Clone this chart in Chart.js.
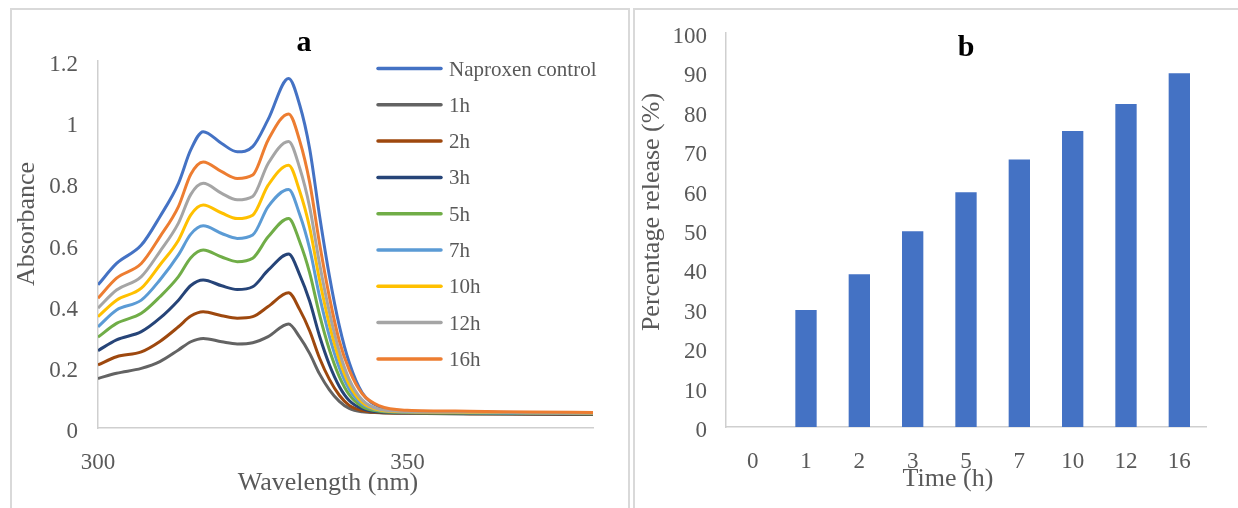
<!DOCTYPE html>
<html>
<head>
<meta charset="utf-8">
<script src="https://cdn.jsdelivr.net/npm/chart.js@4.4.1/dist/chart.umd.min.js"></script>
<style>
  body { margin: 0; background: #fff; }
  .panel { position: absolute; top: 8px; height: 520px; border: 2px solid #d9d9d9; box-sizing: border-box; }
  .wrap { position: absolute; top: 0; height: 508px; }
</style>
</head>
<body>
<div class="panel" style="left:10px; width:620px;"></div>
<div class="panel" style="left:633px; width:620px;"></div>
<div class="wrap" style="left:0; width:629px;"><canvas id="spectraChart"></canvas></div>
<div class="wrap" style="left:633px; width:605px;"><canvas id="releaseChart"></canvas></div>
<script>
// ---- data: UV spectra (panel a) ----
const wavelengths = [300, 303, 307, 310, 313, 315, 317, 320, 322.5, 325, 327.5, 330.8, 332.6, 334.2, 335.8, 337.4, 339, 340.6, 342.7, 345.5, 350, 360, 370, 380];
const seriesNames = ['Naproxen control', '1h', '2h', '3h', '5h', '7h', '10h', '12h', '16h'];
const control = [.468, .538, .598, .691, .800, .910, .969, .930, .903, .920, 1.009, 1.143, 1.056, .914, .695, .497, .334, .214, .115, .069, .055, .052, .050, .049];
const h1  = [.162, .179, .195, .217, .255, .282, .293, .282, .275, .279, .299, .340, .297, .244, .177, .125, .087, .064, .053, .050, .048, .046, .045, .044];
const h2  = [.206, .233, .249, .283, .331, .366, .380, .367, .359, .364, .397, .442, .387, .318, .229, .159, .107, .074, .057, .051, .049, .047, .046, .045];
const h3  = [.253, .288, .315, .359, .418, .466, .484, .465, .453, .462, .516, .569, .501, .415, .301, .207, .136, .090, .063, .052, .050, .048, .047, .046];
const h5  = [.297, .342, .375, .429, .495, .557, .582, .559, .544, .555, .625, .685, .609, .508, .371, .256, .168, .109, .070, .055, .051, .049, .048, .047];
const h7  = [.331, .386, .418, .484, .566, .634, .661, .636, .620, .631, .724, .780, .698, .587, .431, .300, .197, .127, .078, .057, .052, .050, .049, .048];
const h10 = [.364, .418, .457, .533, .614, .697, .729, .703, .685, .696, .794, .859, .774, .656, .485, .338, .223, .142, .084, .059, .053, .051, .050, .049];
const h12 = [.392, .451, .495, .577, .670, .764, .800, .767, .746, .757, .865, .937, .850, .723, .538, .379, .250, .159, .092, .061, .054, .052, .050, .049];
const h16 = [.424, .490, .538, .625, .724, .830, .870, .838, .816, .827, .942, 1.027, .939, .804, .604, .428, .285, .190, .112, .072, .058, .055, .052, .051];
const spectra = [control, h1, h2, h3, h5, h7, h10, h12, h16];
const seriesColors = ['#4472C4', '#636363', '#9E480E', '#264478', '#70AD47', '#5B9BD5', '#FFC000', '#A5A5A5', '#ED7D31'];
const wavelengthTicks = [300, 350];

// ---- data: release (panel b) ----
const timeLabels = ['0', '1', '2', '3', '5', '7', '10', '12', '16'];
const releasePct = [0, 29.7, 38.8, 49.7, 59.6, 67.9, 75.1, 82.0, 89.8];

const SERIF = '"Liberation Serif", "Times New Roman", serif';
const TEXT_GREY = '#595959';
const AXIS_GREY = '#cfcfcf';

// free text (panel letters, axis titles) drawn on top of the chart
function textLayer(items) {
    return {
        id: 'textLayer',
        afterDraw(chart) {
            const ctx = chart.ctx;
            items.forEach(t => {
                ctx.save();
                ctx.translate(t.x, t.y);
                if (t.rotate) ctx.rotate(t.rotate * Math.PI / 180);
                ctx.font = t.font;
                ctx.fillStyle = t.color;
                ctx.textAlign = 'center';
                ctx.textBaseline = 'middle';
                ctx.fillText(t.text, 0, 0);
                ctx.restore();
            });
        }
    };
}

// legend sitting inside the plot area, like the Excel one
function insideLegend(x, y, gap) {
    return {
        id: 'insideLegend',
        afterDraw(chart) {
            const ctx = chart.ctx;
            chart.data.datasets.forEach((ds, i) => {
                const yy = y + i * gap;
                ctx.save();
                ctx.strokeStyle = ds.borderColor;
                ctx.lineWidth = 3.5;
                ctx.lineCap = 'round';
                ctx.beginPath();
                ctx.moveTo(x, yy);
                ctx.lineTo(x + 63, yy);
                ctx.stroke();
                ctx.font = '21px ' + SERIF;
                ctx.fillStyle = TEXT_GREY;
                ctx.textBaseline = 'middle';
                ctx.fillText(ds.label, x + 71, yy + 1.5);
                ctx.restore();
            });
        }
    };
}

const tickFont = { family: SERIF, size: 23 };
const noGrid = { display: false, drawTicks: false, tickLength: 0 };

new Chart(document.getElementById('spectraChart'), {
    type: 'line',
    data: {
        datasets: seriesNames.map((name, i) => ({
            label: name,
            data: wavelengths.map((w, k) => ({ x: w, y: spectra[i][k] })),
            borderColor: seriesColors[i],
            borderWidth: 3,
            pointRadius: 0,
            cubicInterpolationMode: 'monotone',
            fill: false,
            order: -i // later series drawn on top
        }))
    },
    options: {
        responsive: true,
        maintainAspectRatio: false,
        animation: false,
        layout: { padding: { top: 61, left: 0, right: 36, bottom: 0 } },
        plugins: { legend: { display: false }, tooltip: { enabled: false } },
        scales: {
            x: {
                type: 'linear',
                min: 300,
                max: 380,
                afterBuildTicks: s => { s.ticks = wavelengthTicks.map(v => ({ value: v })); },
                afterFit: s => { s.height = 80; },
                grid: noGrid,
                border: { color: AXIS_GREY, width: 1.5 },
                ticks: { padding: 21, color: TEXT_GREY, font: tickFont, maxRotation: 0 }
            },
            y: {
                min: 0,
                max: 1.2,
                afterFit: s => { s.width = 98; },
                grid: noGrid,
                border: { color: AXIS_GREY, width: 1.5 },
                ticks: {
                    stepSize: 0.2, padding: 20, labelOffset: 4, color: TEXT_GREY, font: tickFont,
                    callback: v => String(Math.round(v * 10) / 10)
                }
            }
        }
    },
    plugins: [
        insideLegend(378, 68.5, 36.3),
        textLayer([
            { text: 'a', x: 304, y: 43, font: 'bold 30px ' + SERIF, color: '#000' },
            { text: 'Absorbance', x: 27, y: 224, rotate: -90, font: '26px ' + SERIF, color: TEXT_GREY },
            { text: 'Wavelength (nm)', x: 328, y: 483, font: '26px ' + SERIF, color: TEXT_GREY }
        ])
    ]
});

new Chart(document.getElementById('releaseChart'), {
    type: 'bar',
    data: {
        labels: timeLabels,
        datasets: [{
            label: 'Percentage release',
            data: releasePct,
            backgroundColor: '#4472C4',
            barPercentage: 0.4,
            categoryPercentage: 1.0
        }]
    },
    options: {
        responsive: true,
        maintainAspectRatio: false,
        animation: false,
        layout: { padding: { top: 33, left: 0, right: 32, bottom: 0 } },
        plugins: { legend: { display: false }, tooltip: { enabled: false } },
        scales: {
            x: {
                afterFit: s => { s.height = 81; },
                grid: noGrid,
                border: { color: AXIS_GREY, width: 1.5 },
                ticks: { padding: 21, color: TEXT_GREY, font: tickFont, maxRotation: 0 }
            },
            y: {
                min: 0,
                max: 100,
                afterFit: s => { s.width = 93; },
                grid: noGrid,
                border: { color: AXIS_GREY, width: 1.5 },
                ticks: { stepSize: 10, padding: 19, labelOffset: 4, color: TEXT_GREY, font: tickFont }
            }
        }
    },
    plugins: [
        textLayer([
            { text: 'b', x: 333, y: 48, font: 'bold 30px ' + SERIF, color: '#000' },
            { text: 'Percentage release (%)', x: 19, y: 212, rotate: -90, font: '26px ' + SERIF, color: TEXT_GREY },
            { text: 'Time (h)', x: 315, y: 479, font: '26px ' + SERIF, color: TEXT_GREY }
        ])
    ]
});
</script>
</body>
</html>
